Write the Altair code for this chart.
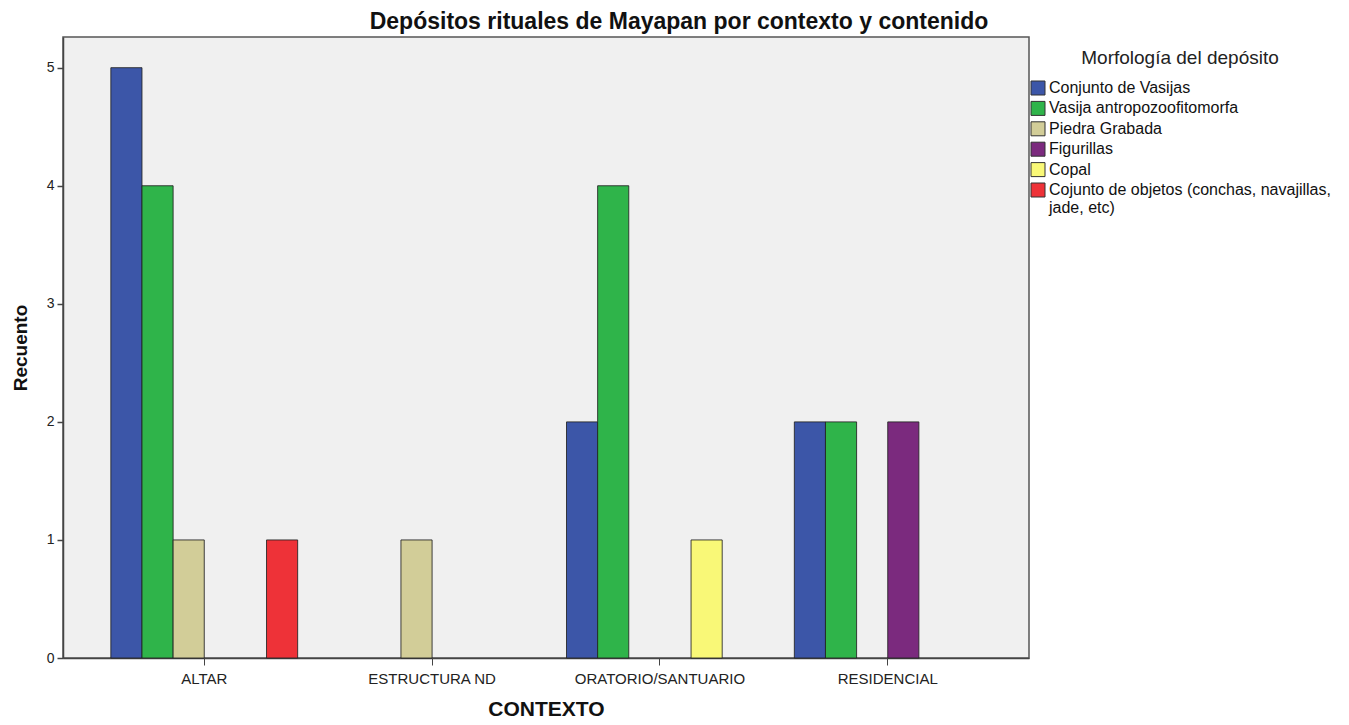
import altair as alt
import pandas as pd

contexts = ["ALTAR", "ESTRUCTURA ND", "ORATORIO/SANTUARIO", "RESIDENCIAL"]
morphs = [
    "Conjunto de Vasijas",
    "Vasija antropozoofitomorfa",
    "Piedra Grabada",
    "Figurillas",
    "Copal",
    "Cojunto de objetos (conchas, navajillas, jade, etc)",
]
colors = ["#3C56A8", "#2FB44A", "#D2CD98", "#7B2A7E", "#F9F877", "#EE3238"]

# counts per context, in the order of morphs
altar = [5, 4, 1, 0, 0, 1]
estructura = [0, 0, 1, 0, 0, 0]
oratorio = [2, 4, 0, 0, 1, 0]
residencial = [2, 2, 0, 2, 0, 0]

rows = []
for ctx, vals in zip(contexts, [altar, estructura, oratorio, residencial]):
    for m, v in zip(morphs, vals):
        if v > 0:
            rows.append({"CONTEXTO": ctx, "Morfologia": m, "Recuento": v})
df = pd.DataFrame(rows)

long_label = morphs[-1]

chart = alt.Chart(df).mark_bar(
    stroke="#222222", strokeWidth=1, strokeOpacity=0.85, opacity=1
).encode(
    x=alt.X(
        "CONTEXTO:N",
        sort=contexts,
        scale=alt.Scale(domain=contexts, paddingInner=0.18, paddingOuter=0.21),
        axis=alt.Axis(
            title="CONTEXTO", labelAngle=0, labelFont="Liberation Sans",
            labelFontSize=15, labelColor="#222222", labelPadding=6,
            titleFont="Liberation Sans", titleFontSize=21, titleFontWeight="bold",
            titleColor="#111111", titlePadding=12, tickSize=7, tickColor="#444444",
            domainColor="#444444", domainWidth=1.5,
        ),
    ),
    xOffset=alt.XOffset("Morfologia:N", scale=alt.Scale(domain=morphs, paddingInner=0, paddingOuter=0)),
    y=alt.Y(
        "Recuento:Q",
        scale=alt.Scale(domain=[0, 5.26], nice=False),
        axis=alt.Axis(
            title="Recuento", values=[0, 1, 2, 3, 4, 5], format="d", grid=False,
            labelFont="Liberation Sans", labelFontSize=14, labelColor="#222222",
            labelPadding=3, tickSize=6, tickColor="#444444", tickWidth=1.5,
            domainColor="#444444", domainWidth=1.5,
            titleFont="Liberation Sans", titleFontSize=19, titleFontWeight="bold",
            titleColor="#111111", titlePadding=16,
        ),
    ),
    color=alt.Color(
        "Morfologia:N",
        scale=alt.Scale(domain=morphs, range=colors),
        legend=alt.Legend(
            title="Morfología del depósito", orient="none", legendX=967, legendY=12,
            titleFont="Liberation Sans", titleFontSize=19, titleFontWeight="normal",
            titleColor="#222222", titleAnchor="middle", titlePadding=12,
            titleLimit=400,
            labelFont="Liberation Sans", labelFontSize=16, labelColor="#111111",
            labelLimit=420, labelOffset=3,
            labelExpr=f"datum.label == '{long_label}' ? ['Cojunto de objetos (conchas, navajillas,', 'jade, etc)'] : datum.label",
            symbolType="square", symbolSize=196, symbolStrokeColor="#333333",
            symbolStrokeWidth=1, symbolOpacity=1, rowPadding=2.4,
        ),
    ),
).properties(
    width=966,
    height=621,
    background="white",
    title=alt.Title(
        "Depósitos rituales de Mayapan por contexto y contenido",
        font="Liberation Sans", fontSize=23, fontWeight="bold", color="#111111",
        anchor="middle", offset=3, dx=133,
    ),
    autosize=alt.AutoSizeParams(type="none"),
    padding={"left": 55, "top": 29, "right": 305, "bottom": 60},
).configure_view(
    fill="#F0F0F0", stroke="#555555", strokeWidth=1.5
)

chart.save("out.html", embed_options={"renderer": "svg", "actions": False})
